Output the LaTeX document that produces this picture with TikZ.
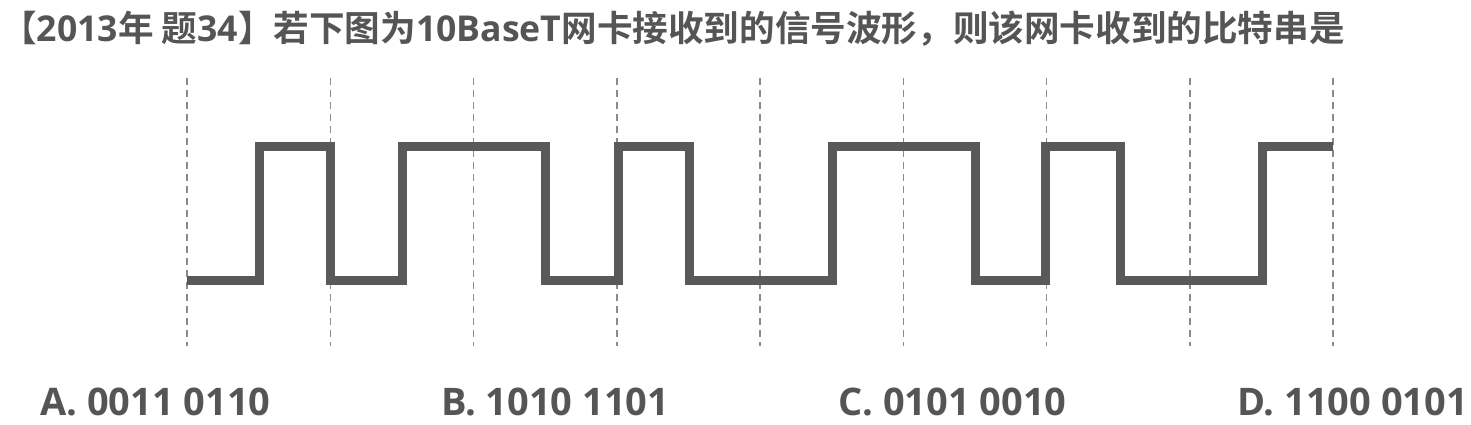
\documentclass[tikz,border=0pt]{standalone}
\usepackage{fontspec}
\newfontfamily\cjk{Noto Sans CJK SC}[BoldFont={Noto Sans CJK SC Bold}]
\newfontfamily\lat{Open Sans}
\definecolor{ink}{HTML}{555555}
\definecolor{wave}{HTML}{595959}
\definecolor{grid}{HTML}{8A8A8A}
\tikzset{
  gridline/.style={draw=grid, line width=1.4pt, dash pattern=on 7pt off 5pt},
  waveline/.style={draw=wave, line width=9pt, line join=miter, line cap=butt},
  titletext/.style={anchor=base west, inner sep=0pt, text=ink, font=\cjk\bfseries\fontsize{35.6}{40}\selectfont},
  opttext/.style={anchor=base west, inner sep=0pt, text=ink, font=\lat\bfseries\fontsize{38}{44}\selectfont}
}
\begin{document}
\begin{tikzpicture}[x=1pt,y=-1pt]
\path[fill=white] (0,0) rectangle (1471,424);
\useasboundingbox (0,0) rectangle (1471,424);
% grid lines
\foreach \gx in {187,330.3,473.5,616.8,760,903.3,1046.5,1189.8,1333}{
  \draw[gridline] (\gx,78) -- (\gx,346);
}
% waveform
\draw[waveline] (187,280) -- (259,280) -- (259,146) -- (330,146) -- (330,280)
  -- (402,280) -- (402,146) -- (545,146) -- (545,280) -- (618,280) -- (618,146)
  -- (689,146) -- (689,280) -- (832,280) -- (832,146) -- (975,146) -- (975,280)
  -- (1045,280) -- (1045,146) -- (1120,146) -- (1120,280) -- (1262,280)
  -- (1262,146) -- (1333,146);
% title
\node[titletext] (title) at (1,41) {【{\lat\bfseries 2013}年 题{\lat\bfseries 34}】若下图为{\lat\bfseries 10BaseT}网卡接收到的信号波形，则该网卡收到的比特串是};
% options
\node[opttext] (optA) at (40,415) {A. 0011 0110};
\node[opttext] (optB) at (441,415) {B. 1010 1101};
\node[opttext] (optC) at (838,415) {C. 0101 0010};
\node[opttext] (optD) at (1237,415) {D. 1100 0101};
\end{tikzpicture}
\end{document}
